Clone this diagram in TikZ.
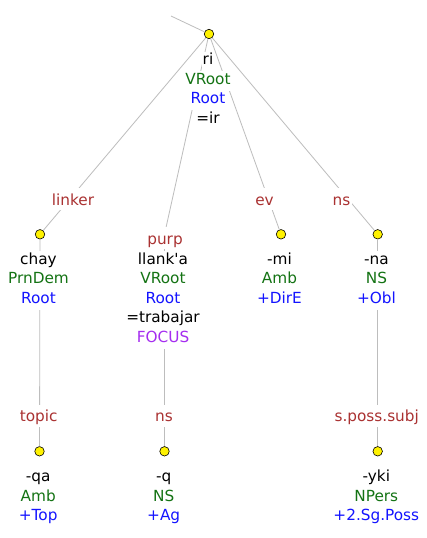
\documentclass[tikz,border=0pt]{standalone}
\usepackage{fontspec}
\setmainfont{DejaVu Sans}
\definecolor{relred}{RGB}{170,50,50}
\definecolor{catgreen}{RGB}{20,115,20}
\definecolor{featblue}{RGB}{20,20,255}
\definecolor{focuspurple}{RGB}{165,45,240}
\tikzset{
  wd/.style={font=\fontsize{15.3}{19.5}\selectfont, anchor=base, fill=white,
    inner xsep=1pt, inner ysep=0pt, text height=13pt, text depth=6.5pt},
  form/.style={wd, text=black},
  cat/.style={wd, text=catgreen},
  feat/.style={wd, text=featblue},
  rel/.style={wd, text=relred, inner xsep=1.5pt, text height=17pt, text depth=5pt},
  dot/.style={circle, draw=black, fill=yellow, line width=0.6pt,
    minimum size=9.5pt, inner sep=0pt},
  edge/.style={draw=black!26, line width=0.8pt}
}
\begin{document}
\begin{tikzpicture}[x=1pt, y=-1pt]
    \useasboundingbox[fill=white] (0,0) rectangle (426,538);

    % dots
    \node[dot] (ri) at (209,34) {};
    \node[dot] (chay) at (40,234.3) {};
    \coordinate (llanka) at (164.5,234.3);
    \node[dot] (mi) at (281,234.3) {};
    \node[dot] (na) at (377.7,234.3) {};
    \node[dot] (qa) at (39.5,451.3) {};
    \node[dot] (q) at (164.5,451.3) {};
    \node[dot] (yki) at (377.7,451.3) {};
    \coordinate (up) at (171,16);

    % edges
    \draw[edge] (up) -- (ri);
    \draw[edge] (ri) -- (chay);
    \draw[edge] (ri) -- (llanka);
    \draw[edge] (ri) -- (mi);
    \draw[edge] (ri) -- (na);
    \draw[edge] (chay) -- (qa);
    \draw[edge] (llanka) -- (q);
    \draw[edge] (na) -- (yki);

    % edge labels
    \node[rel] (linker) at (73,205) {linker};
    \node[rel] (purp) at (165,244) {purp};
    \node[rel] (ev) at (264.5,205) {ev};
    \node[rel] (nsna) at (341.5,205) {ns};
    \node[rel] (topic) at (38.7,421.7) {topic};
    \node[rel] (nsq) at (164,421.7) {ns};
    \node[rel] (posssubj) at (376.7,421.7) {s.poss.subj};

    % root
    \node[form] (ri1) at (208,64.5) {ri};
    \node[cat] (ri2) at (208,84) {VRoot};
    \node[feat] (ri3) at (208,103.5) {Root};
    \node[form] (ri4) at (208,123) {=ir};

    % middle row
    \node[form] (chay1) at (38.5,264) {chay};
    \node[cat] (chay2) at (38.5,283.5) {PrnDem};
    \node[feat] (chay3) at (38.5,303) {Root};

    \node[form] (llanka1) at (163,264) {llank\textquotesingle a};
    \node[cat] (llanka2) at (163,283.5) {VRoot};
    \node[feat] (llanka3) at (163,303) {Root};
    \node[form] (llanka4) at (163,322.5) {=trabajar};
    \node[wd, text=focuspurple] (llanka5) at (163,342) {FOCUS};

    \node[form] (mi1) at (279.5,264) {-mi};
    \node[cat] (mi2) at (279.5,283.5) {Amb};
    \node[feat] (mi3) at (279.5,303) {+DirE};

    \node[form] (na1) at (376.5,264) {-na};
    \node[cat] (na2) at (376.5,283.5) {NS};
    \node[feat] (na3) at (376.5,303) {+Obl};

    % bottom row
    \node[form] (qa1) at (38.2,481.7) {-qa};
    \node[cat] (qa2) at (38.2,501.2) {Amb};
    \node[feat] (qa3) at (38.2,520.7) {+Top};

    \node[form] (q1) at (163.7,481.7) {-q};
    \node[cat] (q2) at (163.7,501.2) {NS};
    \node[feat] (q3) at (163.7,520.7) {+Ag};

    \node[form] (yki1) at (376.3,481.7) {-yki};
    \node[cat] (yki2) at (376.3,501.2) {NPers};
    \node[feat] (yki3) at (376.3,520.7) {+2.Sg.Poss};
\end{tikzpicture}
\end{document}
